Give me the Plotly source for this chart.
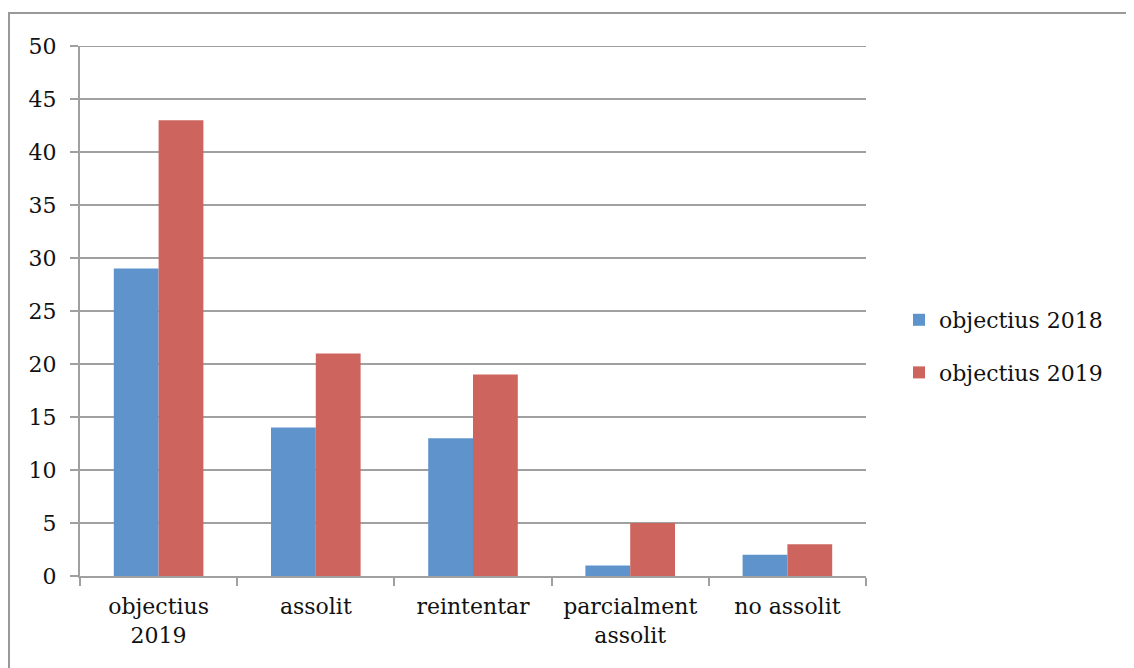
import plotly.graph_objects as go

categories = ["objectius<br>2019", "assolit", "reintentar", "parcialment<br>assolit", "no assolit"]
series_names = ["objectius 2018", "objectius 2019"]
values_2018 = [29, 14, 13, 1, 2]
values_2019 = [43, 21, 19, 5, 3]
colors = ["#5E93CB", "#CD645E"]

W, H = 1134, 668
OFF = 8  # page offset of the figure
L, R, T, B = 80 - OFF, 866 - OFF, 46 - OFF, 576 - OFF
pw, ph = R - L, B - T

font = dict(family="DejaVu Serif", size=22, color="#111111")

fig = go.Figure()
fig.add_trace(go.Bar(x=categories, y=values_2018, name=series_names[0], legendgroup="a",
                     marker=dict(color=colors[0], line_width=0)))
fig.add_trace(go.Bar(x=categories, y=values_2019, name=series_names[1], legendgroup="b",
                     marker=dict(color=colors[1], line_width=0)))

def px_x(p):
    return (p - OFF - L) / pw

def px_y(p):
    return (B - (p - OFF)) / ph

fig.update_layout(
    width=W, height=H,
    margin=dict(l=L, r=W - R, t=T, b=H - B, autoexpand=False),
    paper_bgcolor="white", plot_bgcolor="white",
    barmode="group", bargap=0.43, bargroupgap=0,
    font=font,
    showlegend=True,
    legend=dict(x=px_x(899), y=px_y(299), xanchor="left", yanchor="top",
                font=font, traceorder="grouped",
                itemwidth=30, tracegroupgap=21, bgcolor="rgba(0,0,0,0)"),
    xaxis=dict(showgrid=False, showline=True, linecolor="#a0a0a0", linewidth=2,
               ticks="outside", ticklen=8, tickcolor="#a0a0a0", tickwidth=2,
               tickson="boundaries", tickfont=font, zeroline=False, ticklabelstandoff=10),
    yaxis=dict(range=[0, 50], dtick=5, showgrid=True, gridcolor="#a0a0a0", gridwidth=2,
               showline=True, linecolor="#a0a0a0", linewidth=2,
               ticks="outside", ticklen=8, tickcolor="#a0a0a0", tickwidth=2,
               tickfont=font, zeroline=False, ticklabelstandoff=9),
    shapes=[
        dict(type="rect", xref="paper", yref="paper",
             x0=px_x(9), x1=px_x(1200), y0=px_y(700), y1=px_y(13),
             line=dict(color="#999999", width=2), fillcolor="rgba(0,0,0,0)", layer="below"),
        dict(type="line", xref="paper", yref="y", x0=0, x1=1, y0=50, y1=50,
             line=dict(color="#a0a0a0", width=2), layer="below"),
    ],
)
fig.write_html("out.html")
